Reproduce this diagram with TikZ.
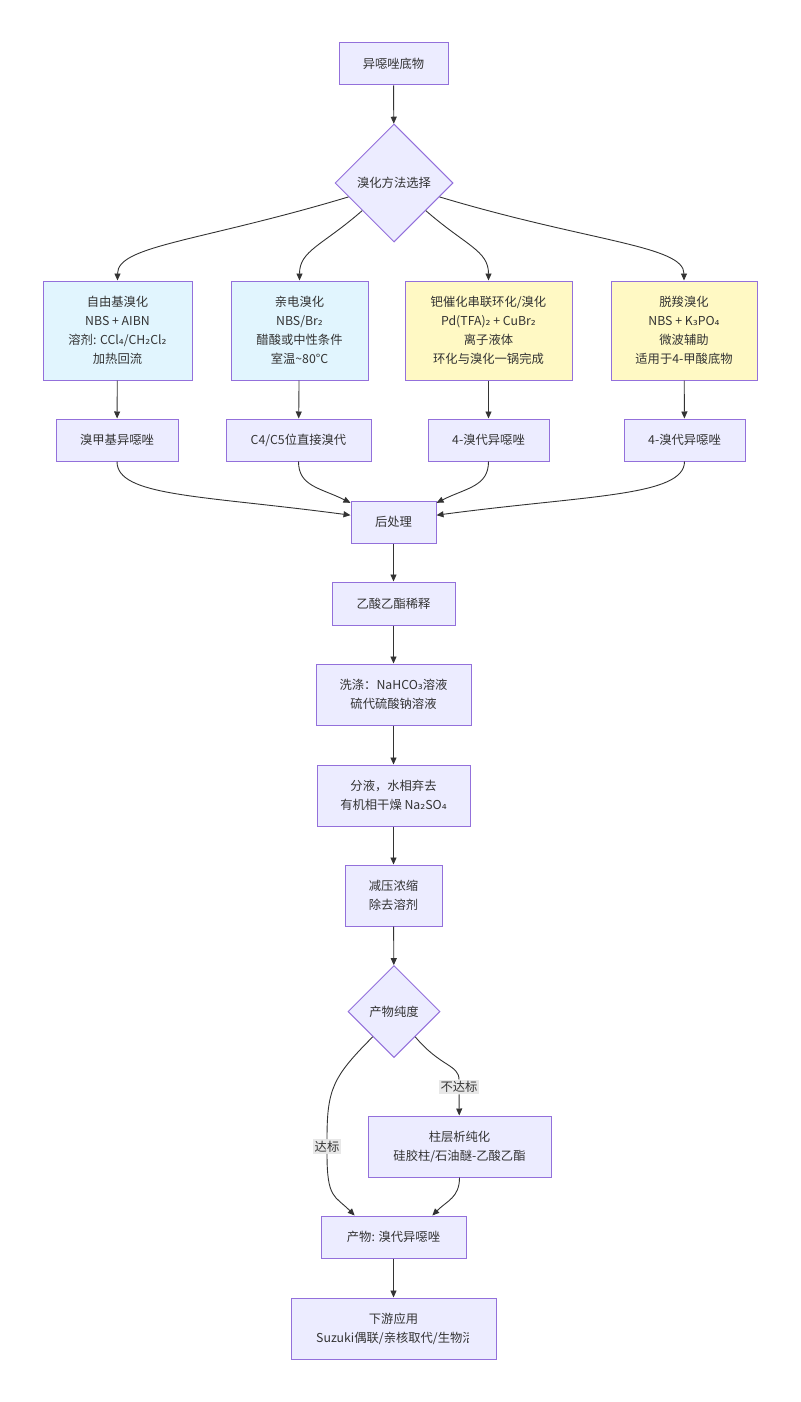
\documentclass[tikz,border=0pt]{standalone}
\usepackage{fontspec}
\setmainfont{Noto Sans CJK SC}
\newfontfamily\subfont{DejaVu Sans}
\newcommand\idx[1]{{\subfont #1}}
\usetikzlibrary{arrows.meta, shapes.geometric}
\definecolor{cnode}{HTML}{ECECFF}
\definecolor{cedge}{HTML}{9370DB}
\definecolor{cblue}{HTML}{E1F5FE}
\definecolor{cyellow}{HTML}{FFF9C4}
\definecolor{cline}{HTML}{333333}
\definecolor{clabel}{HTML}{E8E8E8}
\tikzset{
  every picture/.style={x=1pt, y=-1pt, font=\fontsize{12.3}{19}\selectfont, text=cline},
  box/.style={draw=cedge, fill=#1, line width=1pt, align=center, inner sep=0pt},
  box/.default=cnode,
  choice/.style={diamond, aspect=1, draw=cedge, fill=cnode, line width=1pt, inner sep=0pt},
  arrow/.style={-{Triangle[length=7pt, width=6pt]}, draw=cline, line width=0.9pt},
  lbl/.style={fill=clabel, inner sep=1.5pt},
}
\begin{document}
\begin{tikzpicture}
  \useasboundingbox (0,0) rectangle (800,1402);
  \node[box, minimum width=109pt, minimum height=42pt] (sub) at (393.5,64) {异噁唑底物};
  \node[choice, minimum size=118pt] (sel) at (394,183) {溴化方法选择};
  % four routes
  \node[box=cblue, minimum width=149pt, minimum height=99pt] (rad) at (117.5,330.5) {自由基溴化\\NBS + AIBN\\溶剂: CCl\idx{₄}/CH\idx{₂}Cl\idx{₂}\\加热回流};
  \node[box=cblue, minimum width=137pt, minimum height=99pt] (ele) at (299.5,330.5) {亲电溴化\\NBS/Br\idx{₂}\\醋酸或中性条件\\室温\textasciitilde80°C};
  \node[box=cyellow, minimum width=167pt, minimum height=99pt] (pd) at (488.5,330.5) {钯催化串联环化/溴化\\Pd(TFA)\idx{₂} + CuBr\idx{₂}\\离子液体\\环化与溴化一锅完成};
  \node[box=cyellow, minimum width=146pt, minimum height=99pt] (dec) at (684,330.5) {脱羧溴化\\NBS + K\idx{₃}PO\idx{₄}\\微波辅助\\适用于4-甲酸底物};
  \node[box, minimum width=122pt, minimum height=42pt] (radp) at (117,440) {溴甲基异噁唑};
  \node[box, minimum width=145pt, minimum height=42pt] (elep) at (298.5,440) {C4/C5位直接溴代};
  \node[box, minimum width=121pt, minimum height=42pt] (pdp) at (488.5,440) {4-溴代异噁唑};
  \node[box, minimum width=121pt, minimum height=42pt] (decp) at (684.5,440) {4-溴代异噁唑};
  % work-up
  \node[box, minimum width=85pt, minimum height=42pt] (post) at (393.5,522) {后处理};
  \node[box, minimum width=123pt, minimum height=43pt] (dil) at (393.5,603.5) {乙酸乙酯稀释};
  \node[box, minimum width=155pt, minimum height=61pt] (wash) at (393.5,694.5) {洗涤：NaHCO\idx{₃}溶液\\硫代硫酸钠溶液};
  \node[box, minimum width=153pt, minimum height=61pt] (sep) at (393.5,795.5) {分液，水相弃去\\有机相干燥 Na\idx{₂}SO\idx{₄}};
  \node[box, minimum width=97pt, minimum height=61pt] (conc) at (393.5,895.5) {减压浓缩\\除去溶剂};
  \node[choice, minimum size=92pt] (pur) at (394,1011.5) {产物纯度};
  \node[box, minimum width=183pt, minimum height=61pt] (col) at (459.5,1146.5) {柱层析纯化\\硅胶柱/石油醚-乙酸乙酯};
  \node[box, minimum width=145pt, minimum height=42pt] (prod) at (393.5,1237) {产物: 溴代异噁唑};
  \node[box, minimum width=205pt, minimum height=61pt] (use) at (393.5,1328.5) {};
  \node (usea) at (393.5,1319) {下游应用};
  \begin{scope}
    \clip (291,1298) rectangle (468,1359);
    \node[anchor=west, inner sep=0pt] (useb) at (316,1338) {Suzuki偶联/亲核取代/生物活};
  \end{scope}
  \node[lbl] (nok) at (459,1087) {不达标};
  \node[lbl] (ok) at (327,1146.5) {达标};
  % connectors
  \draw[arrow] (sub) -- (sel);
  \draw[arrow] (sel.197) .. controls +(-150,45) and +(0,-35) .. (rad.north);
  \draw[arrow] (sel.221) .. controls +(-40,35) and +(0,-30) .. (ele.north);
  \draw[arrow] (sel.319) .. controls +(40,35) and +(0,-30) .. (pd.north);
  \draw[arrow] (sel.343) .. controls +(150,45) and +(0,-35) .. (dec.north);
  \foreach \a/\b in {rad/radp, ele/elep, pd/pdp, dec/decp}
    \draw[arrow] (\a) -- (\b);
  \draw[arrow] (radp.south) .. controls +(0,35) and +(-150,-20) .. (post.171);
  \draw[arrow] (elep.south) .. controls +(0,25) and +(-30,-15) .. (post.156);
  \draw[arrow] (pdp.south) .. controls +(0,25) and +(30,-15) .. (post.24);
  \draw[arrow] (decp.south) .. controls +(0,35) and +(150,-20) .. (post.9);
  \foreach \a/\b in {post/dil, dil/wash, wash/sep, sep/conc, conc/pur, prod/use}
    \draw[arrow] (\a) -- (\b);
  \draw[cline, line width=0.9pt] (pur.-50) .. controls +(25,30) and +(0,-15) .. (nok.north);
  \draw[arrow] (nok) -- (col);
  \draw[cline, line width=0.9pt] (pur.230) .. controls +(-40,40) and +(0,-50) .. (ok.north);
  \draw[arrow] (ok.south) .. controls +(0,45) and +(-20,-20) .. (prod.151);
  \draw[arrow] (col.south) .. controls +(0,20) and +(15,-15) .. (prod.29);
\end{tikzpicture}
\end{document}
